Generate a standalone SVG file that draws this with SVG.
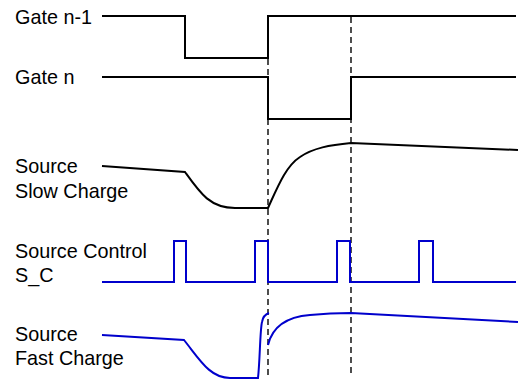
<svg xmlns="http://www.w3.org/2000/svg" width="523" height="385" viewBox="0 0 523 385">
<style>
text{font-family:"Liberation Sans",Arial,sans-serif;font-size:19.8px;fill:#000}
.w{fill:none;stroke:#000;stroke-width:2;stroke-linejoin:miter}
.b{fill:none;stroke:#0000cc;stroke-width:2;stroke-linejoin:miter}
.d{fill:none;stroke:#222;stroke-width:1.6;stroke-dasharray:6,4}
</style>
<rect width="523" height="385" fill="#fff"/>
<g id="connectors">
<line class="d" x1="268" y1="59" x2="268" y2="377"/>
<line class="d" x1="351" y1="17" x2="351" y2="375"/>
</g>
<g id="gate-n-1">
<text x="15" y="24">Gate n-1</text>
<path class="w" d="M102,16 H185 V58 H268 V16 H516"/>
</g>
<g id="gate-n">
<text x="15" y="84">Gate n</text>
<path class="w" d="M102,77 H268 V119 H351 V77 H516"/>
</g>
<g id="source-slow-charge">
<text x="15" y="173">Source</text>
<text x="15" y="198">Slow Charge</text>
<path class="w" d="M102,166 L185,172 C200,193 210,208 235,208 L268,208 C278,186 286,166 300,157 C313,148 330,145 351,143 L518,150"/>
</g>
<g id="source-control">
<text x="15" y="258">Source Control</text>
<text x="15" y="282">S_C</text>
<path class="b" d="M102,282 H174 V241 H186 V282 H255 V241 H268 V282 H337 V241 H350 V282 H419 V241 H433 V282 H516"/>
</g>
<g id="source-fast-charge">
<text x="15" y="341">Source</text>
<text x="15" y="365">Fast Charge</text>
<path class="b" d="M102,335 L184,340 C200,360 210,378 230,378 L258,378 C260,360 260,330 262,322 C263,316 266,314 269,313"/>
<path class="b" d="M268,345 C272,328 285,317 310,315 C330,313 340,313 351,313 L518,322"/>
</g>
</svg>
